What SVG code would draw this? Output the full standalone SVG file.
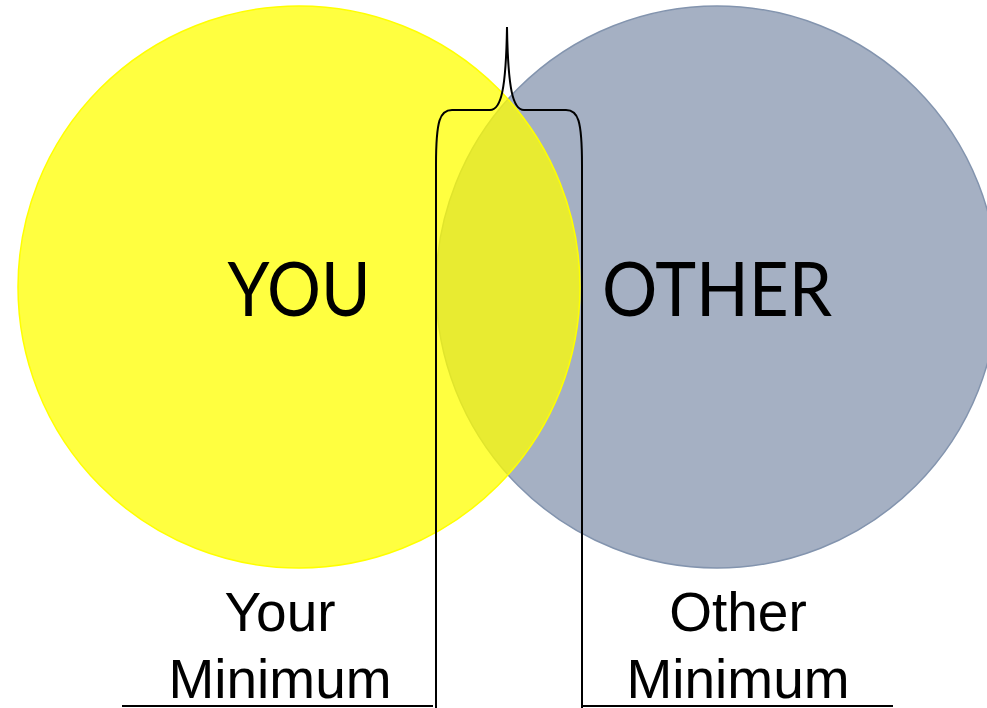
<svg xmlns="http://www.w3.org/2000/svg" width="987" height="708" viewBox="0 0 987 708">
<style>
.big{font-family:Lato,"Open Sans","Liberation Sans",sans-serif;font-size:76px;fill:#000;text-anchor:middle}
.lbl{font-family:"Liberation Sans",Arial,sans-serif;font-size:55px;fill:#000;text-anchor:middle}
.ln{fill:none;stroke:#000;stroke-width:2}
</style>
<rect width="987" height="708" fill="#fff"/>
<g id="other">
<circle cx="717" cy="287" r="281" fill="#A5B0C3" stroke="#8394AE" stroke-width="1.5"/>
<text class="big" x="717" y="316" textLength="230" lengthAdjust="spacingAndGlyphs">OTHER</text>
</g>
<g id="you">
<circle cx="299" cy="287" r="281" fill="#FFFF00" fill-opacity="0.75" stroke="#FFFF00" stroke-width="1.5"/>
<text class="big" x="299" y="316" textLength="143" lengthAdjust="spacingAndGlyphs">YOU</text>
</g>
<g id="connectors">
<path class="ln" d="M436 708 L436 165 C436 120 440 110 452 110 L490 110 C501 110 506 90 507 27"/>
<path class="ln" d="M507 27 C508 90 513 110 524 110 L566 110 C578 110 582 120 582 165 L582 708"/>
<line class="ln" x1="122" y1="706" x2="433" y2="706"/>
<line class="ln" x1="582" y1="706" x2="893" y2="706"/>
</g>
<g id="your-minimum">
<text class="lbl" x="280" y="631">Your</text>
<text class="lbl" x="280" y="698">Minimum</text>
</g>
<g id="other-minimum">
<text class="lbl" x="738" y="631">Other</text>
<text class="lbl" x="738" y="698">Minimum</text>
</g>
</svg>
